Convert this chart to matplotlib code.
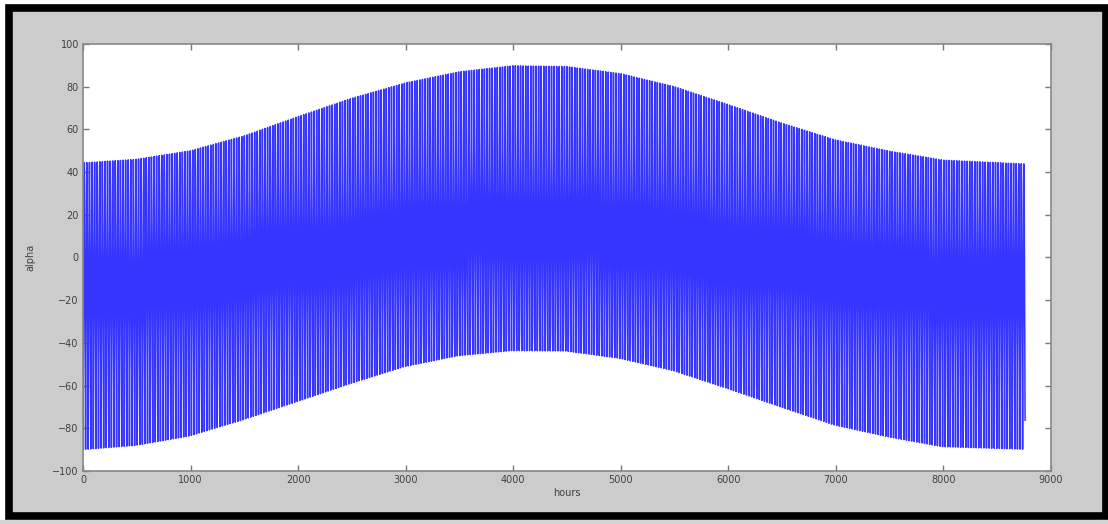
import numpy as np
import matplotlib
matplotlib.use('Agg')
import matplotlib.pyplot as plt
from matplotlib.patches import Rectangle

# envelope of alpha (hour of year -> daily max / min)
env_hours = [0, 500, 1000, 1500, 2000, 2500, 3000, 3500, 4000, 4500,
             5000, 5500, 6000, 6500, 7000, 7500, 8000, 8760]
env_upper = [44.3, 46.0, 50.0, 57.0, 66.0, 74.6, 81.8, 87.0, 89.8, 89.4,
             86.1, 80.0, 71.6, 62.9, 55.0, 49.8, 45.6, 43.8]
env_lower = [-90.0, -88.0, -83.6, -76.0, -67.5, -59.0, -51.1, -46.0, -43.6, -43.8,
             -47.2, -53.0, -61.3, -70.0, -78.5, -84.0, -88.6, -89.8]

# cosine of the hour angle for each hour of the day (hour 0 = midnight)
day_shape = [-1.000, -0.966, -0.866, -0.707, -0.500, -0.259, 0.000, 0.259,
             0.500, 0.707, 0.866, 0.966, 1.000, 0.966, 0.866, 0.707,
             0.500, 0.259, 0.000, -0.259, -0.500, -0.707, -0.866, -0.966]

x_ticks = [0, 1000, 2000, 3000, 4000, 5000, 6000, 7000, 8000, 9000]
y_ticks = [-100, -80, -60, -40, -20, 0, 20, 40, 60, 80, 100]

n_days = 365
hours = np.arange(n_days * 24)
day_mid = np.arange(n_days) * 24 + 12
up = np.interp(day_mid, env_hours, env_upper)
lo = np.interp(day_mid, env_hours, env_lower)
su, sl = np.sin(np.radians(up)), np.sin(np.radians(lo))
a, b = (su + sl) / 2, (su - sl) / 2
shape = np.array(day_shape)
alpha = np.degrees(np.arcsin(np.clip(a[:, None] + b[:, None] * shape[None, :], -1, 1))).ravel()

W, H = 1108, 524
fig = plt.figure(figsize=(W / 100, H / 100), dpi=100)
fig.patch.set_facecolor('white')

# grey panel with thick black frame
def px(x, y):
    return x / W, 1 - y / H
fig.patches.append(Rectangle(px(0, 524), 1, 4 / H, transform=fig.transFigure,
                             facecolor='#d4d4d4', edgecolor='none', zorder=-2))
x0, y0 = px(9, 516)
x1, y1 = px(1106, 8)
fig.patches.append(Rectangle((x0, y0), x1 - x0, y1 - y0, transform=fig.transFigure,
                             facecolor='#cccccc', edgecolor='black', linewidth=5.5, zorder=-1))

ax = fig.add_axes([83 / W, 1 - 471 / H, (1051 - 83) / W, (471 - 44) / H])
ax.set_zorder(2)
ax.set_facecolor('white')
ax.plot(hours, alpha, color='#3535ff', linewidth=1.1)

ax.set_xlim(0, 9000)
ax.set_ylim(-100, 100)
ax.set_xticks(x_ticks)
ax.set_yticks(y_ticks)
for s in ax.spines.values():
    s.set_color('#888888')
    s.set_linewidth(1.2)
ax.tick_params(direction='in', length=4, width=1, color='#777777',
               top=True, right=True, labelsize=7, labelcolor='#404040', pad=3)
ax.set_xlabel('hours', fontsize=7, color='#404040', labelpad=2)
ax.set_ylabel('alpha', fontsize=7, color='#404040', labelpad=12)

fig.savefig('out.png', dpi=100, facecolor=fig.get_facecolor())
